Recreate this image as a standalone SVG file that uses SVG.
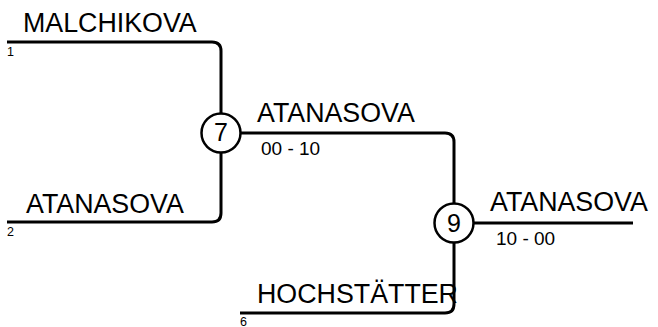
<svg xmlns="http://www.w3.org/2000/svg" width="658" height="327" viewBox="0 0 658 327">
<style>
.ln{fill:none;stroke:#000;stroke-width:3}
.nd{fill:#fff;stroke:#000;stroke-width:2.5}
.nm{font-family:"Liberation Sans",Arial,sans-serif;font-size:26.8px;fill:#000}
.sc{font-family:"Liberation Sans",Arial,sans-serif;font-size:19px;fill:#000}
.sd{font-family:"Liberation Sans",Arial,sans-serif;font-size:12.5px;fill:#000}
.cn{font-family:"Liberation Sans",Arial,sans-serif;font-size:25px;fill:#000;text-anchor:middle}
</style>
<rect width="658" height="327" fill="#fff"/>
<g id="connectors">
<path class="ln" d="M7,42 H212 Q221,42 221,51 V113"/>
<path class="ln" d="M7,222 H212 Q221,222 221,213 V153"/>
<path class="ln" d="M241,133 H445 Q454,133 454,142 V203"/>
<path class="ln" d="M240,313 H445 Q454,313 454,304 V243"/>
<path class="ln" d="M474,223 H633"/>
</g>
<g id="entry1">
<text class="nm" x="23" y="31.5">MALCHIKOVA</text>
<text class="sd" x="7" y="56">1</text>
</g>
<g id="entry2">
<text class="nm" x="26" y="213">ATANASOVA</text>
<text class="sd" x="7" y="236">2</text>
</g>
<g id="entry6">
<text class="nm" x="257" y="303">HOCHSTÄTTER</text>
<text class="sd" x="240" y="326">6</text>
</g>
<g id="match7">
<circle class="nd" cx="221" cy="133" r="19.5"/>
<text class="cn" x="221" y="141">7</text>
<text class="nm" x="257" y="122">ATANASOVA</text>
<text class="sc" x="261" y="155">00 - 10</text>
</g>
<g id="match9">
<circle class="nd" cx="454" cy="223" r="19.5"/>
<text class="cn" x="454" y="231.5">9</text>
<text class="nm" x="490" y="211">ATANASOVA</text>
<text class="sc" x="496" y="245">10 - 00</text>
</g>
</svg>
